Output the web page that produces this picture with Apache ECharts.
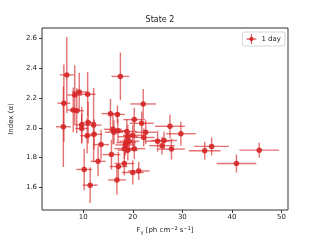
<!DOCTYPE html>
<html><head><meta charset="utf-8">
<script src="https://cdn.jsdelivr.net/npm/echarts@6/dist/echarts.min.js"></script>
<style>html,body{margin:0;padding:0;background:#fff}#c{width:320px;height:240px}</style>
</head><body><div id="c"></div>
<script>
const title = 'State 2';
const seriesName = '1 day';
const flux =     [6.7, 17.5, 22.1, 6.1, 8.3, 9.2, 10.9, 8.0, 8.7, 15.5, 16.9, 6.0, 9.7, 11.0, 12.1, 9.7, 10.8, 12.2, 13.6, 13.0, 10.2, 11.4, 16.0, 16.2, 17.0, 18.8, 19.0, 20.3, 21.8, 22.6, 22.2, 20.0, 18.7, 19.3, 18.3, 20.3, 15.7, 18.3, 17.1, 20.0, 21.2, 16.8, 25.0, 26.3, 25.9, 27.8, 27.5, 29.7, 34.5, 35.9, 40.9, 45.5, 18.5, 19.0];
const fluxErr =  [1.4, 1.8, 2.6, 1.3, 1.5, 1.5, 1.6, 1.2, 1.4, 1.8, 1.5, 1.5, 1.4, 1.5, 1.6, 1.3, 1.4, 1.6, 1.6, 1.5, 1.6, 1.5, 1.8, 1.8, 1.8, 2.0, 2.0, 2.2, 2.4, 2.2, 2.2, 2.0, 2.0, 2.0, 2.0, 2.2, 1.8, 2.0, 1.8, 2.2, 2.2, 1.8, 2.6, 2.6, 2.6, 2.7, 3.0, 3.0, 3.2, 3.5, 4.0, 4.0, 2.0, 2.0];
const index =    [2.355, 2.345, 2.16, 2.165, 2.22, 2.24, 2.225, 2.12, 2.115, 2.095, 2.09, 2.007, 2.02, 2.035, 2.018, 1.995, 1.947, 1.956, 1.887, 1.775, 1.72, 1.615, 1.99, 1.97, 1.98, 1.975, 1.94, 2.055, 2.03, 1.97, 1.935, 1.95, 1.90, 1.91, 1.86, 1.86, 1.82, 1.76, 1.74, 1.70, 1.71, 1.65, 1.91, 1.915, 1.88, 1.857, 2.01, 1.96, 1.846, 1.875, 1.76, 1.85, 1.885, 1.85];
const indexErr = [0.255, 0.16, 0.10, 0.26, 0.20, 0.13, 0.15, 0.15, 0.15, 0.10, 0.06, 0.27, 0.12, 0.14, 0.25, 0.10, 0.12, 0.10, 0.10, 0.10, 0.14, 0.12, 0.10, 0.08, 0.08, 0.08, 0.08, 0.08, 0.08, 0.08, 0.06, 0.07, 0.07, 0.07, 0.07, 0.07, 0.10, 0.08, 0.10, 0.08, 0.06, 0.10, 0.07, 0.06, 0.06, 0.07, 0.08, 0.08, 0.06, 0.06, 0.06, 0.05, 0.07, 0.07];
const xTicks = [10, 20, 30, 40, 50];
const yTicks = [1.6, 1.8, 2.0, 2.2, 2.4, 2.6];

const red = '#d62728';
const points = flux.map((x, i) => [x, index[i]]);
const errData = flux.map((x, i) => [x, index[i], fluxErr[i], indexErr[i]]);

const chart = echarts.init(document.getElementById('c'), null, {renderer: 'canvas'});
const font = 'DejaVu Sans';
chart.setOption({
  animation: false,
  textStyle: {fontFamily: font},
  title: {text: title, left: 'center', top: 11, textStyle: {fontSize: 8, fontWeight: 'normal', color: '#222', fontFamily: font}},
  legend: {
    right: 35, top: 32, padding: [2, 4, 2, 4], itemGap: 0,
    itemWidth: 10, itemHeight: 10,
    borderColor: '#ccc', borderWidth: 0.8, borderRadius: 2, backgroundColor: '#fff',
    textStyle: {fontSize: 7, color: '#222', fontFamily: font},
    data: [{name: seriesName, icon: 'path://M0,4.6 L10,4.6 L10,5.4 L0,5.4 Z M4.6,0 L5.4,0 L5.4,10 L4.6,10 Z M5,2.2 L7.8,5 L5,7.8 L2.2,5 Z'}]
  },
  grid: {left: 40, right: 32, top: 28, bottom: 27, show: true, borderColor: '#333', borderWidth: 1, backgroundColor: 'transparent'},
  xAxis: {
    type: 'value', min: 1.7, max: 51.3,
    axisLine: {show: false},
    splitLine: {show: false},
    axisTick: {show: true, length: 3, lineStyle: {color: '#333'}, customValues: xTicks},
    axisLabel: {fontSize: 7, color: '#222', margin: 4, customValues: xTicks, fontFamily: font},
    name: 'F{sub|γ} [ph cm{sup|−2} s{sup|−1}]',
    nameLocation: 'middle', nameGap: 16,
    nameTextStyle: {fontSize: 7, color: '#222', fontFamily: font,
      rich: {sub: {fontSize: 5, padding: [4, 0, 0, 0], color: '#222'}, sup: {fontSize: 5, padding: [0, 0, 4, 0], color: '#222'}}}
  },
  yAxis: {
    type: 'value', min: 1.448, max: 2.67,
    axisLine: {show: false},
    splitLine: {show: false},
    axisTick: {show: true, length: 3, lineStyle: {color: '#333'}, customValues: yTicks},
    axisLabel: {fontSize: 7, color: '#222', margin: 5, customValues: yTicks, fontFamily: font, formatter: v => v.toFixed(1)},
    name: 'Index (α)', nameLocation: 'middle', nameGap: 20, nameRotate: 90,
    nameTextStyle: {fontSize: 7, color: '#222', fontFamily: font}
  },
  series: [
    {
      type: 'custom', name: seriesName, data: errData, z: 2,
      renderItem: (params, api) => {
        const x = api.value(0), y = api.value(1), xe = api.value(2), ye = api.value(3);
        const l = api.coord([x - xe, y]), r = api.coord([x + xe, y]);
        const t = api.coord([x, y + ye]), b = api.coord([x, y - ye]);
        const style = {stroke: red, lineWidth: 1.4, opacity: 0.65};
        return {type: 'group', children: [
          {type: 'line', shape: {x1: l[0], y1: l[1], x2: r[0], y2: r[1]}, style},
          {type: 'line', shape: {x1: t[0], y1: t[1], x2: b[0], y2: b[1]}, style}
        ]};
      },
      itemStyle: {color: red}
    },
    {
      type: 'scatter', name: seriesName, data: points, symbol: 'circle', symbolSize: 5.5, z: 3,
      itemStyle: {color: red, opacity: 0.9}
    }
  ]
});
</script></body></html>
